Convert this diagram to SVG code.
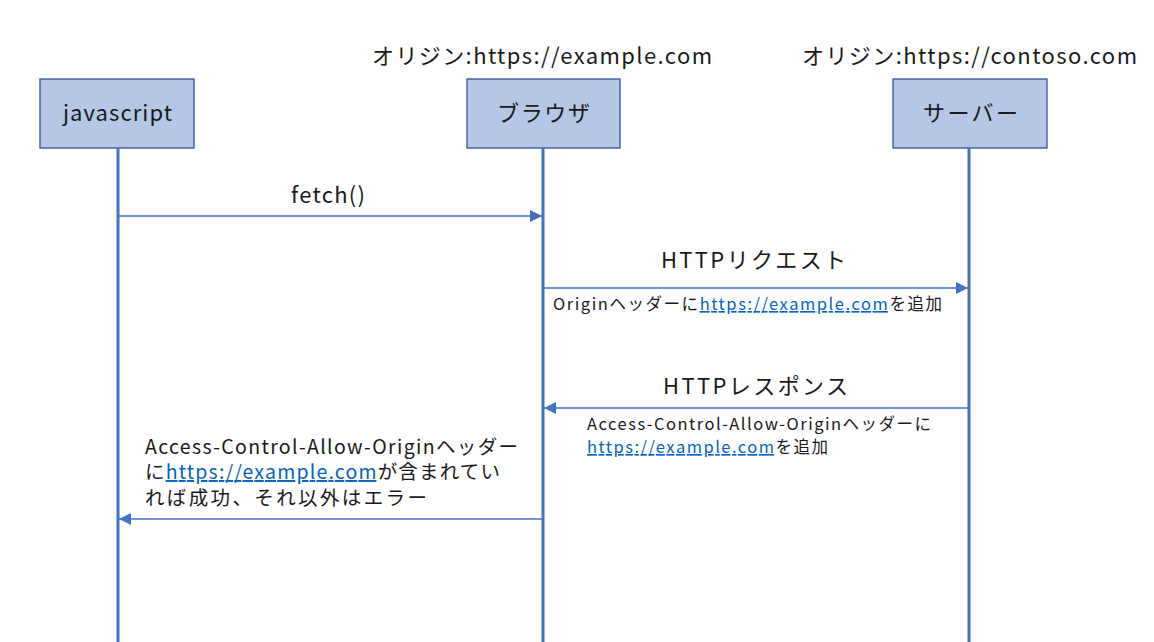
<svg xmlns="http://www.w3.org/2000/svg" width="1154" height="642" viewBox="0 0 1154 642">
<style>
.box{fill:#b4c7e7;stroke:#2f5597;stroke-width:1.3}
.life{stroke:#4472c4;stroke-width:3}
.msg{stroke:#4472c4;stroke-width:1.3;fill:none}
text{font-family:"Noto Sans CJK JP","Liberation Sans",sans-serif;fill:#1a1a1a}
.t22{font-size:22px}
.t17{font-size:16.5px}
.t20{font-size:19.5px}
.link{fill:#0563c1;text-decoration:underline}
</style>
<defs>
<marker id="ah" viewBox="0 0 12 12" refX="12" refY="6" markerWidth="12" markerHeight="12" markerUnits="userSpaceOnUse" orient="auto">
<path d="M0,0 L12,6 L0,12 Z" fill="#4472c4"/>
</marker>
</defs>
<g id="labels">
<text class="t22" x="372" y="64" textLength="340" lengthAdjust="spacing">オリジン:https://example.com</text>
<text class="t22" x="802" y="64" textLength="335" lengthAdjust="spacing">オリジン:https://contoso.com</text>
</g>
<g id="javascript">
<rect class="box" x="40" y="79" width="154" height="69"/>
<text class="t22" x="63" y="121" textLength="109" lengthAdjust="spacing">javascript</text>
</g>
<g id="browser">
<rect class="box" x="467" y="79" width="153" height="69"/>
<text class="t22" x="497" y="121" textLength="93" lengthAdjust="spacing">ブラウザ</text>
</g>
<g id="server">
<rect class="box" x="893" y="79" width="154" height="69"/>
<text class="t22" x="923" y="121" textLength="95" lengthAdjust="spacing">サーバー</text>
</g>
<g id="connectors">
<line class="life" x1="118" y1="148" x2="118" y2="642"/>
<line class="life" x1="543" y1="148" x2="543" y2="642"/>
<line class="life" x1="969" y1="148" x2="969" y2="642"/>
<line class="msg" x1="118" y1="216" x2="542" y2="216" marker-end="url(#ah)"/>
<line class="msg" x1="543" y1="288" x2="968" y2="288" marker-end="url(#ah)"/>
<line class="msg" x1="969" y1="408" x2="544" y2="408" marker-end="url(#ah)"/>
<line class="msg" x1="543" y1="519" x2="119" y2="519" marker-end="url(#ah)"/>
<text class="t22" x="291" y="203" textLength="74" lengthAdjust="spacing">fetch()</text>
<text class="t22" x="661" y="268" textLength="185" lengthAdjust="spacing">HTTPリクエスト</text>
<text class="t17" x="553" y="310" textLength="389" lengthAdjust="spacing">Originヘッダーに<tspan class="link">https://example.com</tspan>を追加</text>
<text class="t22" x="663" y="394" textLength="185" lengthAdjust="spacing">HTTPレスポンス</text>
<text class="t17" x="587" y="430" textLength="344" lengthAdjust="spacing">Access-Control-Allow-Originヘッダーに</text>
<text class="t17" x="587" y="453" textLength="241" lengthAdjust="spacing"><tspan class="link">https://example.com</tspan>を追加</text>
<text class="t20" x="145" y="454" textLength="373" lengthAdjust="spacing">Access-Control-Allow-Originヘッダー</text>
<text class="t20" x="145" y="479" textLength="355" lengthAdjust="spacing">に<tspan class="link">https://example.com</tspan>が含まれてい</text>
<text class="t20" x="145" y="505" textLength="282" lengthAdjust="spacing">れば成功、それ以外はエラー</text>
</g>
</svg>
